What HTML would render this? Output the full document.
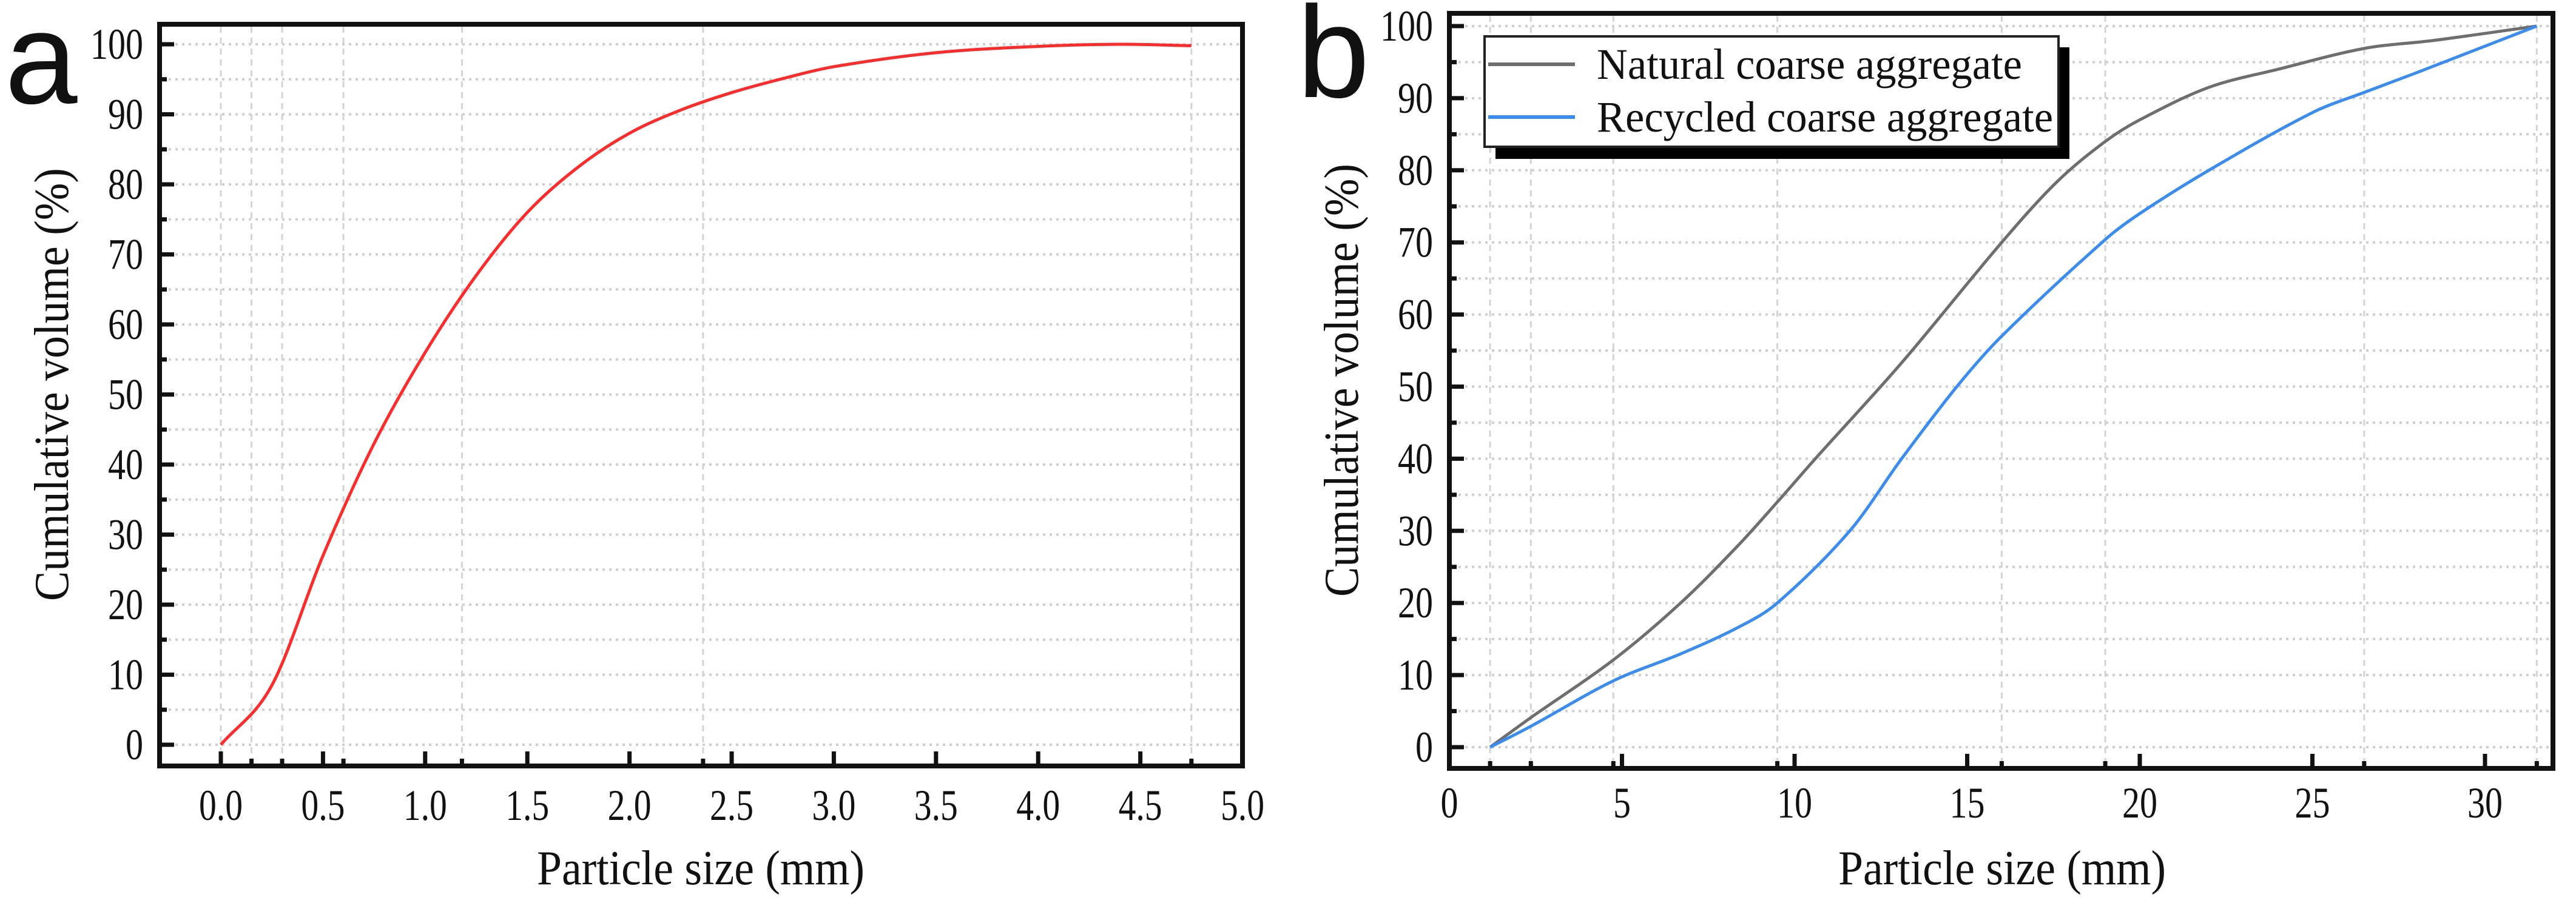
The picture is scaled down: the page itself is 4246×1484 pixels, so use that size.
<!DOCTYPE html>
<html><head><meta charset="utf-8"><style>
html,body{margin:0;padding:0;background:#fff;}
svg{display:block;}
text{font-family:"Liberation Serif",serif;fill:#111;}
</style></head>
<body>
<svg id="fig" width="4246" height="1484" viewBox="0 0 4246 1484" xmlns="http://www.w3.org/2000/svg">
<rect width="4246" height="1484" fill="#fff"/>
<g id="pa"></g>
<g id="pb"></g>
</svg>
<script>
// Panel a data
const aSizes = [0, 0.25, 0.5, 0.75, 1.0, 1.25, 1.5, 1.75, 2.0, 2.25, 2.5, 2.75, 3.0, 3.5, 4.0, 4.4, 4.75];
const aVolume = [0, 8.5, 27, 43, 56, 67, 76, 82.5, 87.3, 90.6, 93.1, 95.1, 96.8, 98.8, 99.7, 100, 99.8];
const aSieves = [0, 0.15, 0.3, 0.6, 1.18, 2.36, 4.75];
const aXTicks = ["0.0","0.5","1.0","1.5","2.0","2.5","3.0","3.5","4.0","4.5","5.0"];
const yTicks = ["0","10","20","30","40","50","60","70","80","90","100"];
// Panel b data
const bSizesNat = [1.18, 2.36, 4.75, 6.7, 8.35, 9.5, 10.6, 13.1, 16, 17.6, 19, 20, 22, 24, 26.5, 28.5, 31.5];
const bNatural = [0, 4.1, 12.1, 20, 27.9, 34, 40, 53.3, 70, 78.4, 84, 87, 91.5, 94, 96.9, 98, 100];
const bSizesRec = [1.18, 2.36, 4.75, 6.73, 8.4, 9.5, 11.6, 13.1, 14.7, 16, 19, 20, 22, 25, 26.5, 28, 31.5];
const bRecycled = [0, 2.9, 9.2, 13, 16.7, 20, 30, 40, 50, 57, 70.4, 74, 80, 88, 90.8, 93.5, 100];
const bSieves = [1.18, 2.36, 4.75, 9.5, 16, 19, 26.5, 31.5];
const bXTicks = ["0","5","10","15","20","25","30"];

const NS = "http://www.w3.org/2000/svg";
function mk(parent, tag, attrs) {
  const e = document.createElementNS(NS, tag);
  for (const k in attrs) e.setAttribute(k, attrs[k]);
  parent.appendChild(e);
  return e;
}
function smoothPath(xs, ys) {
  const n = xs.length, m = [];
  for (let i = 0; i < n; i++) {
    if (i === 0) m.push((ys[1]-ys[0])/(xs[1]-xs[0]));
    else if (i === n-1) m.push((ys[n-1]-ys[n-2])/(xs[n-1]-xs[n-2]));
    else m.push((ys[i+1]-ys[i-1])/(xs[i+1]-xs[i-1]));
  }
  let p = "M" + xs[0] + "," + ys[0];
  for (let i = 0; i < n - 1; i++) {
    const h = (xs[i+1]-xs[i])/3;
    p += " C" + (xs[i]+h) + "," + (ys[i]+m[i]*h) + " " + (xs[i+1]-h) + "," + (ys[i+1]-m[i+1]*h) + " " + xs[i+1] + "," + ys[i+1];
  }
  return p;
}

function panel(g, cfg) {
  const X = v => cfg.x0 + v * cfg.xk;
  const Y = v => cfg.y0 - v * cfg.yk;
  for (let v = 0; v <= 100; v += 5) {
    const l = mk(g, "line", {x1: cfg.L+4, x2: cfg.R-4, y1: Y(v), y2: Y(v), stroke: "#cfcfcf", "stroke-width": 4, "stroke-dasharray": "4,7"});
    
    
  }
  cfg.sieves.forEach(s => {
    const l = mk(g, "line", {x1: X(s), x2: X(s), y1: cfg.T+4, y2: cfg.B-4, stroke: "#d4d4d4", "stroke-width": 3, "stroke-dasharray": "10,8"});
    
    
  });
  cfg.series.forEach(s => {
    const p = mk(g, "path", {d: smoothPath(s.xs.map(X), s.ys.map(Y)), fill: "none", stroke: s.color, "stroke-width": 5});
    
    
  });
  const fr = mk(g, "rect", {x: cfg.L, y: cfg.T, width: cfg.R-cfg.L, height: cfg.B-cfg.T, fill: "none", stroke: "#111", "stroke-width": 8});
  
  
  for (let v = 0; v <= 100; v += 5) {
    const major = v % 10 === 0;
    const t = mk(g, "line", {x1: cfg.L, x2: cfg.L + (major ? 24 : 12), y1: Y(v), y2: Y(v), stroke: "#111", "stroke-width": 7});
    
    
  }
  yTicks.forEach((lab, i) => {
    const v = i * 10;
    const t = mk(g, "text", {x: cfg.ylabX, y: Y(v) + 24, "font-size": 72, "text-anchor": "end", textLength: lab.length * 29, lengthAdjust: "spacingAndGlyphs"});
    t.textContent = lab;
    
    
  });
  cfg.xticks.forEach((lab, i) => {
    const v = i * cfg.xstep;
    const t = mk(g, "line", {x1: X(v), x2: X(v), y1: cfg.B, y2: cfg.B - 24, stroke: "#111", "stroke-width": 7});
    
    
    const tx = mk(g, "text", {x: X(v), y: cfg.xlabY, "font-size": 72, "text-anchor": "middle", textLength: lab.replace('.', '').length * 29 + (lab.includes('.') ? 14 : 0), lengthAdjust: "spacingAndGlyphs"});
    tx.textContent = lab;
    
    
  });
  cfg.sieves.forEach(s => {
    const t = mk(g, "line", {x1: X(s), x2: X(s), y1: cfg.B, y2: cfg.B - 12, stroke: "#111", "stroke-width": 7});
    
    
  });
  const xt = mk(g, "text", {x: cfg.xtitleX, y: 1458, "font-size": 80, "text-anchor": "middle", textLength: 540, lengthAdjust: "spacingAndGlyphs"});
  xt.textContent = "Particle size (mm)";
  
  
  const yt = mk(g, "text", {x: 0, y: 0, "font-size": 80, "text-anchor": "middle", textLength: 714, lengthAdjust: "spacingAndGlyphs", transform: "translate(" + cfg.ytitleX + "," + cfg.ytitleY + ") rotate(-90)"});
  yt.textContent = "Cumulative volume (%)";
  
  
  const pl = mk(g, "text", {x: cfg.letterX, y: cfg.letterY, "font-size": 215, style: "font-family:'Liberation Sans',sans-serif", fill: "#000"});
  pl.textContent = cfg.letter;
  
  
}

panel(document.getElementById("pa"), {
  L: 263, R: 2048, T: 40, B: 1263, x0: 364, xk: 336.8, y0: 1228, yk: 11.55,
  sieves: aSieves, xticks: aXTicks, xstep: 0.5, ylabX: 236, xlabY: 1352,
  xtitleX: 1155, ytitleX: 112, ytitleY: 634, letter: "a", letterX: 8, letterY: 170,
  series: [{xs: aSizes, ys: aVolume, color: "#ff2a2a", name: "cumulative-volume-line"}]
});
panel(document.getElementById("pb"), {
  L: 2389, R: 4208, T: 22, B: 1267, x0: 2389, xk: 56.9, y0: 1232, yk: 11.89,
  sieves: bSieves, xticks: bXTicks, xstep: 5, ylabX: 2362, xlabY: 1348,
  xtitleX: 3300, ytitleX: 2238, ytitleY: 627, letter: "b", letterX: 2138, letterY: 160,
  series: [
    {xs: bSizesNat, ys: bNatural, color: "#6e6e6e", name: "natural-aggregate-line"},
    {xs: bSizesRec, ys: bRecycled, color: "#3a8cf0", name: "recycled-aggregate-line"}
  ]
});

const pb = document.getElementById("pb");
const lg = mk(pb, "g", {});


const sh = mk(lg, "rect", {x: 2465, y: 78, width: 946, height: 184, fill: "#000"});


const bx = mk(lg, "rect", {x: 2447, y: 60, width: 946, height: 182, fill: "#fff", stroke: "#222", "stroke-width": 4});


const legItems = [["Natural coarse aggregate", "#6e6e6e", 106, 701], ["Recycled coarse aggregate", "#3a8cf0", 193, 752]];
legItems.forEach(it => {
  const e = mk(lg, "g", {});
  
  
  const l = mk(e, "line", {x1: 2453, x2: 2596, y1: it[2], y2: it[2], stroke: it[1], "stroke-width": 6});
  
  
  const t = mk(e, "text", {x: 2632, y: it[2] + 24, "font-size": 72, textLength: it[3], lengthAdjust: "spacingAndGlyphs"});
  t.textContent = it[0];
  
  
});
</script>
</body></html>
